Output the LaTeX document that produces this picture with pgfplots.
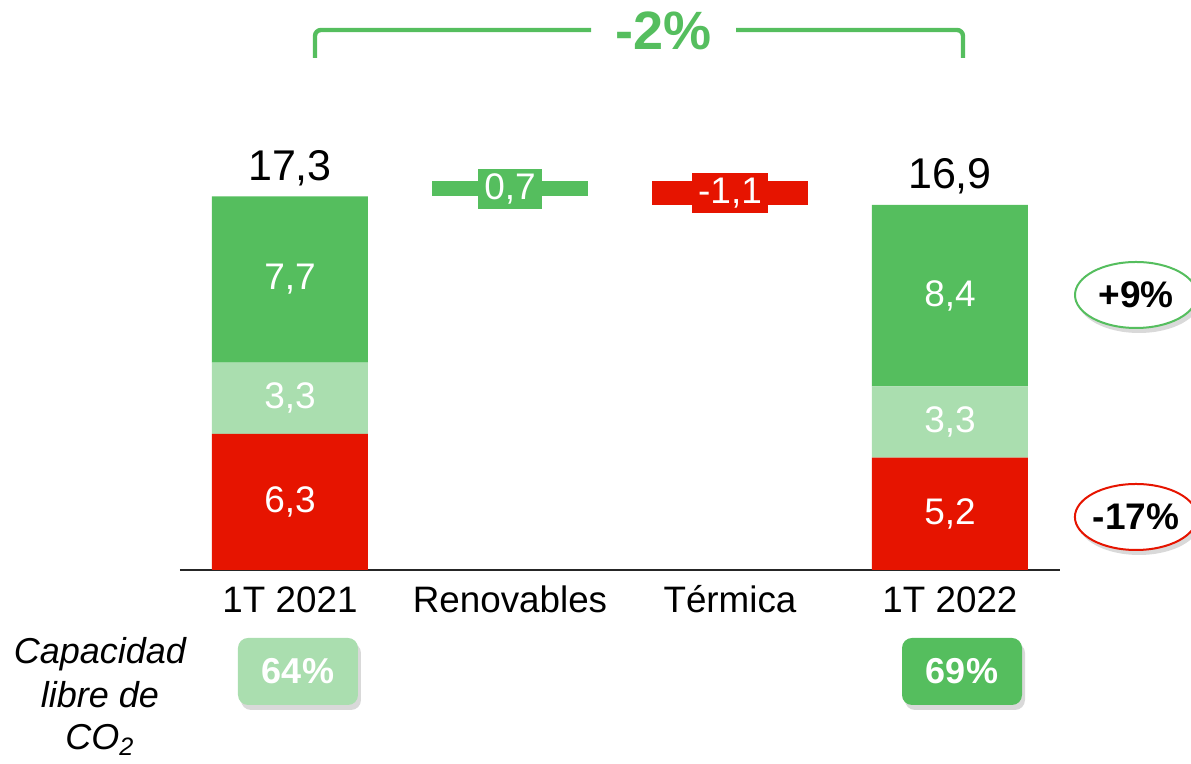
\documentclass[border=0pt]{standalone}
\usepackage{fontspec}
\setmainfont{Liberation Sans}
\usepackage{pgfplots}
\pgfplotsset{compat=1.18}
\usetikzlibrary{shadows,shapes.geometric}
\definecolor{cgreen}{RGB}{85,190,94}
\definecolor{clight}{RGB}{170,222,175}
\definecolor{cred}{RGB}{230,20,0}
\begin{document}
\begin{tikzpicture}
\path[use as bounding box] (-90pt,-97pt) rectangle (505.5pt,285pt);
\begin{axis}[
  at={(0,0)}, anchor=south west,
  scale only axis, width=440pt, height=285pt,
  xmin=-0.5, xmax=3.5, ymin=0, ymax=26.39,
  ybar stacked, bar width=78pt,
  axis x line*=bottom, axis y line=none,
  x axis line style={line width=1pt, color=black!85, -},
  xtick={0,1,2,3}, xticklabels={1T 2021, Renovables, Térmica, 1T 2022},
  major tick length=0pt,
  xticklabel style={font=\fontsize{18.4}{21}\selectfont, anchor=base, yshift=-21.5pt},
  ytick=\empty,
  clip=false,
]
% stacked bars (1T 2021, Renovables, Termica, 1T 2022)
\addplot[fill=cred, draw=none] coordinates {(0,6.3) (1,0) (2,0) (3,5.2)};
\addplot[fill=clight, draw=none] coordinates {(0,3.3) (1,0) (2,0) (3,3.3)};
\addplot[fill=cgreen, draw=none] coordinates {(0,7.7) (1,0) (2,0) (3,8.4)};
% invisible base for waterfall steps
\addplot[fill=none, draw=none] coordinates {(0,0) (1,17.3) (2,16.9) (3,0)};
\addplot[fill=cgreen, draw=none] coordinates {(0,0) (1,0.7) (2,0) (3,0)};
\addplot[fill=cred, draw=none] coordinates {(0,0) (1,0) (2,1.1) (3,0)};

\coordinate (a1) at (axis cs:0,3.15);
\coordinate (a2) at (axis cs:0,7.95);
\coordinate (a3) at (axis cs:0,13.45);
\coordinate (b1) at (axis cs:3,2.6);
\coordinate (b2) at (axis cs:3,6.85);
\coordinate (b3) at (axis cs:3,12.7);
\coordinate (ta) at (axis cs:0,17.3);
\coordinate (tb) at (axis cs:3,16.9);
\coordinate (wr) at (axis cs:1,17.65);
\coordinate (wt) at (axis cs:2,17.45);
\end{axis}

\tikzset{inlbl/.style={text=white, font=\fontsize{18.5}{21}\selectfont, anchor=center}}
\node[inlbl] at (a1) {6,3};
\node[inlbl] at (a2) {3,3};
\node[inlbl] at (a3) {7,7};
\node[inlbl] at (b1) {5,2};
\node[inlbl] at (b2) {3,3};
\node[inlbl] at (b3) {8,4};
\node[anchor=base, font=\fontsize{21.5}{25}\selectfont, yshift=8pt] at (ta) {17,3};
\node[anchor=base, font=\fontsize{21.5}{25}\selectfont, yshift=8pt] at (tb) {16,9};
\node[inlbl, fill=cgreen, inner xsep=3pt, inner ysep=0pt, minimum height=20pt] at (wr) {0,7};
\node[inlbl, fill=cred, inner xsep=3pt, inner ysep=0pt, minimum height=20pt] at (wt) {-1,1};

\begin{scope}[x=0.5pt, y=-0.5pt, shift={(-90pt,285pt)}]
% bracket
\draw[cgreen, line width=2.2pt, rounded corners=3pt] (315,58) -- (315,30) -- (591,30);
\draw[cgreen, line width=2.2pt, rounded corners=3pt] (736,30) -- (963,30) -- (963,58);
\node[anchor=base, text=cgreen, font=\bfseries\fontsize{27}{31}\selectfont] at (664,50) {-2\%};
% ellipses
\tikzset{ell/.style={ellipse, line width=1pt, fill=white, minimum width=61pt, minimum height=33pt, inner sep=0pt,
  drop shadow={shadow xshift=1.5pt, shadow yshift=-2.5pt, opacity=0.3},
  font=\bfseries\fontsize{18.5}{21}\selectfont}}
\node[ell, draw=cgreen] at (1136,295) {+9\%};
\node[ell, draw=cred] at (1136,517) {-17\%};
% bottom boxes
\tikzset{pbox/.style={rounded corners=5pt, minimum width=60pt, minimum height=33.5pt, inner sep=0pt, text=white,
  drop shadow={shadow xshift=1.5pt, shadow yshift=-2.5pt, opacity=0.3},
  font=\bfseries\fontsize{18}{21}\selectfont}}
\node[pbox, fill=clight] at (298,671.5) {64\%};
\node[pbox, fill=cgreen] at (962,671.5) {69\%};
% left text
\tikzset{ltxt/.style={anchor=base, font=\itshape\fontsize{18}{21}\selectfont}}
\node[ltxt] at (100,664) {Capacidad};
\node[ltxt] at (100,708) {libre de};
\node[ltxt] at (100,750) {CO\textsubscript{2}};
\end{scope}
\end{tikzpicture}
\end{document}
